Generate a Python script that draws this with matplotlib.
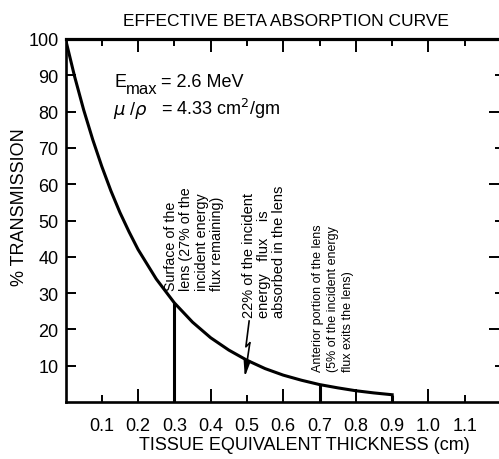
import numpy as np
import matplotlib
matplotlib.use("Agg")
import matplotlib.pyplot as plt
from matplotlib import font_manager

# ---------------- data ----------------
thickness = [0.0, 0.025, 0.05, 0.075, 0.10, 0.125, 0.15, 0.175, 0.20, 0.25,
             0.30, 0.35, 0.40, 0.45, 0.50, 0.55, 0.60, 0.65, 0.70, 0.75,
             0.80, 0.85, 0.90]
transmission = [100, 89.7, 80.5, 72.3, 64.9, 58.2, 52.2, 46.9, 42.0, 33.9,
                27.3, 22.0, 17.7, 14.3, 11.5, 9.2, 7.4, 6.0, 4.8, 3.9,
                3.1, 2.5, 2.0]
marker_x = [0.3, 0.7, 0.9]                      # vertical drop lines
x_major = [0.2, 0.4, 0.6, 0.8, 1.0]
x_minor = [0.1, 0.3, 0.5, 0.7, 0.9, 1.1]
y_left = [10, 20, 30, 40, 50, 60, 70, 80, 90, 100]
y_right_long = [20, 40, 60, 80]
y_right_short = [10, 30, 50, 70, 90]
arrow_path_x = [0.506, 0.497, 0.508, 0.494]     # lightning arrow (data)
arrow_path_y = [22.3, 15.2, 16.3, 6.9]

names = {f.name for f in font_manager.fontManager.ttflist}
REG = 'Liberation Sans' if 'Liberation Sans' in names else 'DejaVu Sans'
plt.rcParams['font.family'] = [REG, 'DejaVu Sans']
plt.rcParams['mathtext.fontset'] = 'dejavusans'

W, H = 499, 460
fig = plt.figure(figsize=(W / 100, H / 100), dpi=100)


def fx(px):
    return px / W


def fy(py):
    return 1 - py / H


L, R, T, B = 65.5, 501, 40, 403
ax = fig.add_axes([fx(L), fy(B), fx(R) - fx(L), fy(T) - fy(B)])
ax.set_xlim(0, 1.2)
ax.set_ylim(0, 100)

ax.plot(thickness, transmission, color='black', lw=2.2,
        solid_joinstyle='round')
ax.vlines(marker_x, 0, np.interp(marker_x, thickness, transmission),
          color='black', lw=2.2)

# lightning arrow
ax.plot(arrow_path_x[:-1], arrow_path_y[:-1], color='black', lw=1.2)
ax.annotate('', xy=(arrow_path_x[-1], arrow_path_y[-1]),
            xytext=(arrow_path_x[-2], arrow_path_y[-2]),
            arrowprops=dict(arrowstyle='-|>,head_length=0.9,head_width=0.2',
                            color='black', lw=1.2, shrinkA=0, shrinkB=0))

for s in ax.spines.values():
    s.set_linewidth(1.9)
ax.spines['top'].set_linewidth(2.3)

ax.set_xticks(x_major)
ax.set_xticks(x_minor, minor=True)
ax.set_xticklabels([f'{v:.1f}' for v in x_major])
ax.set_xticklabels([f'{v:.1f}' for v in x_minor], minor=True)
ax.tick_params(axis='x', which='both', direction='in', top=True, bottom=True,
               labelsize=13, pad=11, width=1.4)
ax.tick_params(axis='x', which='major', length=9.5)
ax.tick_params(axis='x', which='minor', length=5)

ax.set_yticks(y_left)
ax.set_yticklabels([str(v) for v in y_left])
ax.tick_params(axis='y', which='both', direction='in', left=True, right=False,
               labelsize=13, pad=5, length=7, width=1.4)

ax2 = ax.twinx()
ax2.set_ylim(0, 100)
ax2.set_yticks(y_right_long)
ax2.set_yticks(y_right_short, minor=True)
ax2.tick_params(axis='y', which='both', direction='in', labelright=False,
                width=1.4)
ax2.tick_params(axis='y', which='major', length=8.6)
ax2.tick_params(axis='y', which='minor', length=4.3)
for s in ax2.spines.values():
    s.set_visible(False)

# titles / labels
fig.text(fx(286), fy(22), 'EFFECTIVE BETA ABSORPTION CURVE', ha='center',
         va='center', fontsize=12.5)
fig.text(fx(304), fy(446), 'TISSUE EQUIVALENT THICKNESS (cm)', ha='center',
         va='center', fontsize=13)
fig.text(fx(20), fy(207), '% TRANSMISSION', ha='center', va='center',
         rotation=90, fontsize=13)

# parameter box
fig.text(fx(115), fy(87), 'E', fontsize=13, va='baseline')
fig.text(fx(126), fy(94), 'max', fontsize=12, va='baseline')
fig.text(fx(161), fy(87), '= 2.6 MeV', fontsize=13, va='baseline')
fig.text(fx(113), fy(115), r'$\mu$ /$\rho$', fontsize=13, va='baseline')
fig.text(fx(161), fy(115), r'= 4.33 cm$^2$/gm', fontsize=13, va='baseline')

# rotated annotations
fig.text(fx(194), fy(291),
         'Surface of the\nlens (27% of the\nincident energy\nflux remaining)',
         rotation=90, ha='center', va='bottom', multialignment='left',
         fontsize=10.3, linespacing=1.15)
fig.text(fx(264), fy(318),
         '22% of the incident\nenergy   flux    is\nabsorbed in the lens',
         rotation=90, ha='center', va='bottom', multialignment='left',
         fontsize=10.5, linespacing=1.1)
fig.text(fx(333), fy(372),
         'Anterior portion of the lens\n(5% of the incident energy\nflux exits the lens)',
         rotation=90, ha='center', va='bottom', multialignment='left',
         fontsize=9, linespacing=1.35)

fig.savefig('out.png', dpi=100)
